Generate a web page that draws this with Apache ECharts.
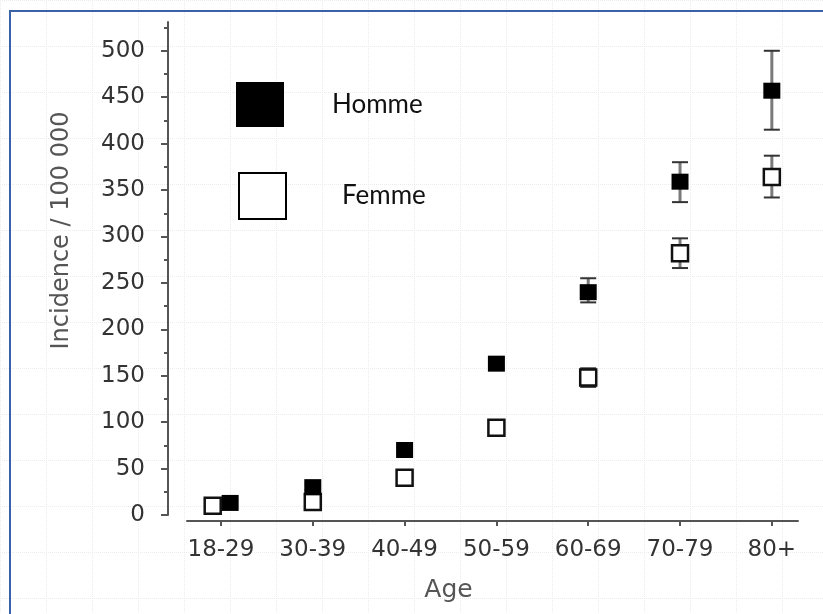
<!DOCTYPE html>
<html>
<head>
<meta charset="utf-8">
<script src="https://cdn.jsdelivr.net/npm/echarts@6/dist/echarts.min.js"></script>
<style>html,body{margin:0;padding:0;background:#fff;}#chart{width:823px;height:614px;}</style>
</head>
<body>
<div id="chart"></div>
<script>
// ---- Data ----
const categories = ['18-29', '30-39', '40-49', '50-59', '60-69', '70-79', '80+'];
const hommeValues = [13, 30, 70, 163, 240, 359, 457];
const hommeLow    = [10, 27, 66, 158, 229, 337, 415];
const hommeHigh   = [16, 33, 74, 168, 255, 380, 500];
const femmeValues = [10, 14, 40, 94, 148, 282, 364];
const femmeLow    = [8, 11, 36, 90, 138, 266, 342];
const femmeHigh   = [12, 17, 44, 98, 158, 298, 387];
const yTickLabels = [0, 50, 100, 150, 200, 250, 300, 350, 400, 450, 500];
const yMinorTicks = [25, 75, 125, 175, 225, 275, 325, 375, 425, 475, 525];

// small horizontal dodge used in the original for the first age group
const dodgeHomme = [0.1, 0, 0, 0, 0, 0, 0];
const dodgeFemme = [-0.09, 0, 0, 0, 0, 0, 0];

const hommePts = hommeValues.map((v, i) => [i + dodgeHomme[i], v]);
const femmePts = femmeValues.map((v, i) => [i + dodgeFemme[i], v]);
const hommeErr = hommeValues.map((v, i) => [i + dodgeHomme[i], hommeLow[i], hommeHigh[i]]);
const femmeErr = femmeValues.map((v, i) => [i + dodgeFemme[i], femmeLow[i], femmeHigh[i]]);

const axisFont = 'DejaVu Sans';
const axisColor = '#555';
const labelColor = '#333';

function errorBar(params, api) {
  const x = api.value(0);
  const lo = api.coord([x, api.value(1)]);
  const hi = api.coord([x, api.value(2)]);
  const hw = 8;
  return {
    type: 'group',
    children: [
      { type: 'line', shape: { x1: lo[0], y1: lo[1], x2: hi[0], y2: hi[1] },
        style: { stroke: '#7a7a7a', lineWidth: 3 } },
      { type: 'line', shape: { x1: hi[0] - hw, y1: hi[1], x2: hi[0] + hw, y2: hi[1] },
        style: { stroke: '#333', lineWidth: 2 } },
      { type: 'line', shape: { x1: lo[0] - hw, y1: lo[1], x2: lo[0] + hw, y2: lo[1] },
        style: { stroke: '#333', lineWidth: 2 } }
    ]
  };
}

const chart = echarts.init(document.getElementById('chart'), null, { renderer: 'canvas' });
chart.setOption({
  animation: false,
  backgroundColor: '#fff',
  grid: [
    { left: 187, right: 25, top: 22, bottom: 99 },
    { left: 0, right: 0, top: 0, bottom: 0, z: 0 }
  ],
  xAxis: [
    {
      type: 'value', gridIndex: 0, min: -0.37, max: 6.285, offset: 6, position: 'bottom',
      name: 'Age', nameLocation: 'middle', nameGap: 57,
      nameTextStyle: { fontFamily: axisFont, fontSize: 25, color: axisColor, padding: [0, 88, 0, 0] },
      axisLine: { show: true, onZero: false, lineStyle: { color: axisColor, width: 2 } },
      axisTick: { show: true, length: 5, customValues: [0, 1, 2, 3, 4, 5, 6], lineStyle: { color: axisColor, width: 2 } },
      axisLabel: {
        customValues: [0, 1, 2, 3, 4, 5, 6], margin: 18,
        fontFamily: axisFont, fontSize: 23, color: labelColor,
        formatter: v => categories[Math.round(v)]
      },
      splitLine: { show: false }
    },
    {
      type: 'value', gridIndex: 1, min: 0, max: 823, interval: 46,
      axisLine: { show: false }, axisTick: { show: false }, axisLabel: { show: false },
      splitLine: { show: true, lineStyle: { color: '#ececec', type: 'dotted', width: 1 } }
    }
  ],
  yAxis: [
    {
      type: 'value', gridIndex: 0, min: 0, max: 531, offset: 19, position: 'left',
      name: 'Incidence / 100 000', nameLocation: 'middle', nameRotate: 90, nameGap: 94,
      nameTextStyle: { fontFamily: axisFont, fontSize: 24, color: axisColor, padding: [0, 0, 0, 76] },
      axisLine: { show: true, onZero: false, lineStyle: { color: axisColor, width: 2 } },
      axisTick: { show: true, length: 7, customValues: yTickLabels, lineStyle: { color: axisColor, width: 2 } },
      axisLabel: { customValues: yTickLabels, margin: 23, fontFamily: axisFont, fontSize: 23, color: labelColor },
      splitLine: { show: false }
    },
    {
      type: 'value', gridIndex: 0, min: 0, max: 531, offset: 19, position: 'left',
      axisLine: { show: false, onZero: false },
      axisTick: { show: true, length: 4, customValues: yMinorTicks, lineStyle: { color: axisColor, width: 2 } },
      axisLabel: { show: false },
      splitLine: { show: false }
    },
    {
      type: 'value', gridIndex: 1, min: 0, max: 614, interval: 46, inverse: true,
      axisLine: { show: false }, axisTick: { show: false }, axisLabel: { show: false },
      splitLine: { show: true, lineStyle: { color: '#ececec', type: 'dotted', width: 1 } }
    }
  ],
  legend: [
    {
      data: ['Homme'], left: 236, top: 82, padding: 0,
      itemWidth: 48, itemHeight: 45, icon: 'rect',
      itemStyle: { color: '#000', borderWidth: 0, opacity: 1 },
      textStyle: { fontFamily: 'Lato', fontSize: 26, color: '#111', padding: [0, 0, 0, 43] },
      selectedMode: false
    },
    {
      data: ['Femme'], left: 238, top: 172, padding: 0,
      itemWidth: 47, itemHeight: 46, icon: 'rect',
      itemStyle: { color: '#fff', borderColor: '#000', borderWidth: 2, opacity: 1 },
      textStyle: { fontFamily: 'Lato', fontSize: 26, color: '#111', padding: [0, 0, 0, 51] },
      selectedMode: false
    }
  ],
  graphic: [
    { type: 'line', shape: { x1: 9, y1: 11, x2: 823, y2: 11 }, style: { stroke: '#3b62a8', lineWidth: 2 }, z: 100 },
    { type: 'line', shape: { x1: 10, y1: 10, x2: 10, y2: 614 }, style: { stroke: '#3b62a8', lineWidth: 2 }, z: 100 }
  ],
  series: [
    { name: 'Homme IC', type: 'custom', xAxisIndex: 0, yAxisIndex: 0, renderItem: errorBar, data: hommeErr, z: 2 },
    { name: 'Femme IC', type: 'custom', xAxisIndex: 0, yAxisIndex: 0, renderItem: errorBar, data: femmeErr, z: 2 },
    {
      name: 'Femme', type: 'scatter', xAxisIndex: 0, yAxisIndex: 0, data: femmePts,
      symbol: 'rect', symbolSize: [16, 16],
      itemStyle: { color: '#fff', borderColor: '#111', borderWidth: 2.5, opacity: 1 }, z: 3
    },
    {
      name: 'Homme', type: 'scatter', xAxisIndex: 0, yAxisIndex: 0, data: hommePts,
      symbol: 'rect', symbolSize: [17, 16],
      itemStyle: { color: '#000', opacity: 1 }, z: 4
    }
  ]
});
</script>
</body>
</html>
